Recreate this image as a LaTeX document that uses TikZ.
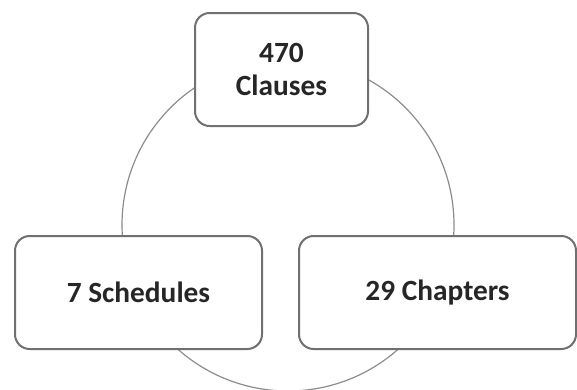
\documentclass[tikz,border=0pt]{standalone}
\usepackage{fontspec}
\setmainfont{Carlito}
\usetikzlibrary{positioning}
\definecolor{boxline}{RGB}{112,112,112}
\definecolor{ringline}{RGB}{140,140,140}
\definecolor{boxtext}{RGB}{38,38,38}
\tikzset{
    partbox/.style={draw=boxline, line width=1.5pt, fill=white, rounded corners=11pt,
        minimum height=84.75pt, inner sep=0.75pt, align=center, text=boxtext,
        font=\fontsize{22}{24.75}\selectfont\bfseries},
    ring/.style={draw=ringline, line width=0.9pt, circle, minimum size=249pt, inner sep=0pt},
}

\begin{document}
\begin{tikzpicture}[x=0.75pt,y=0.75pt,yscale=-1,xscale=1]
\useasboundingbox (0,0) rectangle (577,389);

%Shape: Circle [id:ring]
\node [ring] (ring) at (288,225) {};

% Text Node
\node [partbox, minimum width=129.75pt] (clauses) at (281.5,69.5) {470\\Clauses};
% Text Node
\node [partbox, minimum width=185.25pt] (schedules) at (138.5,292.5) {7 Schedules};
% Text Node
\node [partbox, minimum width=207.75pt] (chapters) at (437.5,292.5) {29 Chapters};

\end{tikzpicture}
\end{document}
